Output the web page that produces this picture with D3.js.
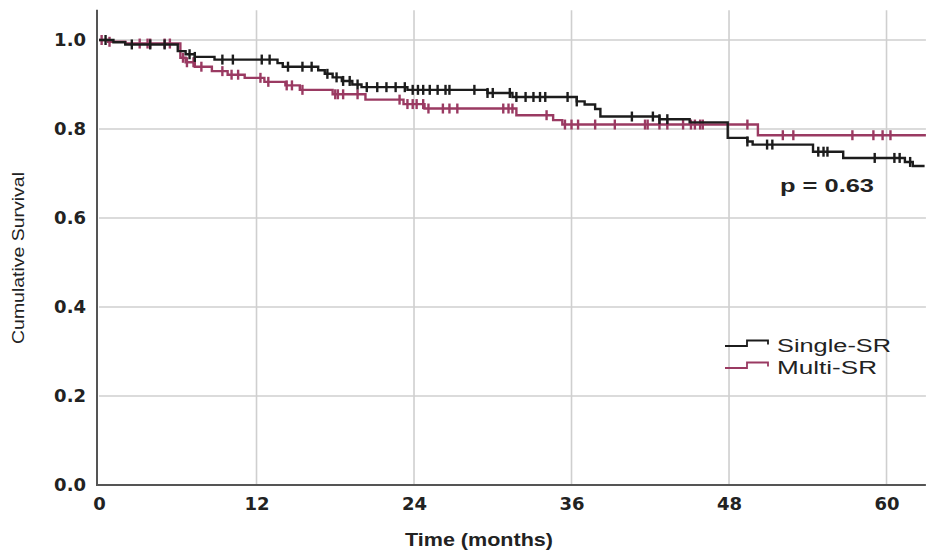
<!DOCTYPE html>
<html>
<head>
<meta charset="utf-8">
<script src="https://cdn.jsdelivr.net/npm/d3@7"></script>
<style>
  html, body { margin: 0; padding: 0; background: #fff; }
  svg { display: block; }
</style>
</head>
<body>
<svg id="chart" width="931" height="552"></svg>
<script>
// Kaplan-Meier step data: [time in months, cumulative survival after the step]
const singleSteps = [
  [0, 1.0], [1.1, 0.995], [2.0, 0.99], [6.0, 0.975], [6.6, 0.968], [7.3, 0.962],
  [8.8, 0.956], [13.6, 0.948], [14.0, 0.94], [16.7, 0.932], [17.2, 0.924],
  [17.8, 0.916], [18.5, 0.908], [19.3, 0.9], [20.0, 0.894], [23.5, 0.888],
  [29.6, 0.881], [31.5, 0.872], [36.4, 0.862], [37.0, 0.855], [37.8, 0.845],
  [38.2, 0.828], [42.7, 0.822], [45.0, 0.815], [47.9, 0.78], [49.4, 0.772],
  [49.8, 0.765], [54.4, 0.749], [56.7, 0.735], [61.4, 0.726], [62.0, 0.717]
];
const singleEnd = 62.9;
const singleCensored = [
  0.5, 2.5, 3.9, 5.0, 6.9, 7.3, 9.4, 10.2, 12.4, 13.0, 14.4, 15.5, 16.2, 17.4,
  18.1, 18.6, 19.1, 19.7, 20.4, 21.2, 21.9, 22.6, 23.3, 23.9, 24.3, 24.7, 25.2,
  25.8, 26.4, 26.7, 28.6, 29.6, 30.0, 31.3, 31.8, 32.5, 33.1, 33.6, 34.0, 35.7,
  36.4, 40.6, 42.2, 42.7, 43.3, 49.4, 50.9, 51.3, 54.8, 55.2, 55.5, 59.1, 60.6,
  61.0, 61.8
];

const multiSteps = [
  [0, 1.0], [0.7, 0.996], [2.0, 0.992], [6.2, 0.96], [6.6, 0.95], [7.3, 0.94],
  [8.6, 0.93], [9.8, 0.922], [11.1, 0.915], [12.6, 0.906], [14.2, 0.898],
  [15.3, 0.888], [17.8, 0.878], [20.3, 0.866], [23.2, 0.856], [24.8, 0.846],
  [31.8, 0.831], [34.6, 0.82], [35.3, 0.81], [50.2, 0.786]
];
const multiEnd = 63.0;
const multiCensored = [
  0.2, 0.8, 3.1, 3.7, 3.9, 5.0, 5.4, 6.4, 6.7, 7.2, 7.8, 9.4, 10.1, 10.6, 12.3,
  12.9, 14.3, 14.7, 15.5, 18.0, 18.2, 18.6, 19.7, 22.9, 23.5, 23.9, 24.2, 24.7,
  25.1, 26.2, 26.7, 27.3, 30.8, 31.2, 31.5, 34.1, 35.5, 36.0, 36.5, 37.8, 39.3,
  41.6, 41.8, 42.7, 43.3, 44.5, 45.1, 45.4, 45.8, 46.0, 49.4, 52.1, 52.9, 57.4,
  59.0, 59.7, 60.3
];

const xTicks = [0, 12, 24, 36, 48, 60];
const yTicks = [0.0, 0.2, 0.4, 0.6, 0.8, 1.0];
const seriesNames = ["Single-SR", "Multi-SR"];
const seriesColors = ["#1c1c1c", "#9a3a62"];
const pValueLabel = "p = 0.63";

const tickFont = "DejaVu Sans, Verdana, sans-serif";
const labelFont = "Liberation Sans, Arial, sans-serif";

const svg = d3.select("#chart");
const x = d3.scaleLinear().domain([0, 63]).range([99, 925.9]);
const y = d3.scaleLinear().domain([0, 1]).range([485, 40]);

// grid lines
const grid = svg.append("g").attr("stroke", "#cfcfcf").attr("stroke-width", 1.6);
grid.selectAll("line.v").data(xTicks.filter(d => d > 0)).join("line")
  .attr("x1", d => x(d)).attr("x2", d => x(d)).attr("y1", y(1.067)).attr("y2", y(0));
grid.selectAll("line.h").data(yTicks.filter(d => d > 0)).join("line")
  .attr("x1", x(0)).attr("x2", x(63)).attr("y1", d => y(d)).attr("y2", d => y(d));

// axes
const xAxis = d3.axisBottom(x).tickValues(xTicks).tickSize(0).tickPadding(12)
  .tickFormat(d3.format("d"));
const yAxis = d3.axisLeft(y).tickValues(yTicks).tickSize(0).tickPadding(11)
  .tickFormat(d3.format(".1f"));

const gx = svg.append("g").attr("transform", `translate(0,${y(0)})`).call(xAxis);
gx.select(".domain").remove();
gx.selectAll("text").attr("font-family", tickFont)
  .attr("font-weight", "bold").attr("font-size", 18).attr("fill", "#222");

const gy = svg.append("g").attr("transform", `translate(${x(0) - 2},0)`).call(yAxis);
gy.select(".domain").remove();
gy.selectAll("text").attr("font-family", tickFont)
  .attr("font-weight", "bold").attr("font-size", 18).attr("fill", "#222");

svg.append("line").attr("x1", x(0) - 2).attr("x2", x(0) - 2)
  .attr("y1", y(1.068)).attr("y2", y(0) + 1)
  .attr("stroke", "#555").attr("stroke-width", 2);
svg.append("line").attr("x1", x(0) - 2).attr("x2", x(63))
  .attr("y1", y(0)).attr("y2", y(0))
  .attr("stroke", "#555").attr("stroke-width", 2);

// axis titles
svg.append("text").attr("x", 479).attr("y", 546)
  .attr("text-anchor", "middle").attr("font-family", labelFont)
  .attr("font-weight", "bold").attr("font-size", 19).attr("fill", "#222")
  .attr("textLength", 148).attr("lengthAdjust", "spacingAndGlyphs")
  .text("Time (months)");
svg.append("text")
  .attr("transform", "translate(24,258) rotate(-90)")
  .attr("text-anchor", "middle").attr("font-family", labelFont)
  .attr("font-size", 17).attr("fill", "#222")
  .attr("textLength", 172).attr("lengthAdjust", "spacingAndGlyphs")
  .text("Cumulative Survival");

// survival at a given time from a step list
function survivalAt(steps, t) {
  let s = steps[0][1];
  for (const [st, sv] of steps) { if (st <= t) s = sv; else break; }
  return s;
}

const line = d3.line().x(d => x(d[0])).y(d => y(d[1])).curve(d3.curveStepAfter);

function drawSeries(steps, end, censored, color) {
  const pts = steps.concat([[end, steps[steps.length - 1][1]]]);
  svg.append("path").datum(pts).attr("d", line)
    .attr("fill", "none").attr("stroke", color).attr("stroke-width", 2.4);
  svg.append("g").selectAll("line").data(censored).join("line")
    .attr("x1", d => x(d)).attr("x2", d => x(d))
    .attr("y1", d => y(survivalAt(steps, d)) - 5)
    .attr("y2", d => y(survivalAt(steps, d)) + 5)
    .attr("stroke", color).attr("stroke-width", 2.4);
}

drawSeries(multiSteps, multiEnd, multiCensored, seriesColors[1]);
drawSeries(singleSteps, singleEnd, singleCensored, seriesColors[0]);

// p-value
svg.append("text").attr("x", 780).attr("y", 192)
  .attr("font-family", labelFont)
  .attr("font-weight", "bold").attr("font-size", 19).attr("fill", "#222")
  .attr("textLength", 94).attr("lengthAdjust", "spacingAndGlyphs")
  .text(pValueLabel);

// legend
const legendWidths = [114, 100];
const legend = svg.append("g").attr("transform", "translate(725,346)");
seriesNames.forEach((name, i) => {
  const g = legend.append("g").attr("transform", `translate(0,${i * 22})`);
  g.append("path").attr("d", "M0,0 H22 V-5.5 H43 V-1.5")
    .attr("fill", "none").attr("stroke", seriesColors[i]).attr("stroke-width", 1.8);
  g.append("text").attr("x", 52).attr("y", 6)
    .attr("font-family", labelFont)
    .attr("font-size", 18).attr("fill", "#222")
    .attr("textLength", legendWidths[i]).attr("lengthAdjust", "spacingAndGlyphs")
    .text(name);
});
</script>
</body>
</html>
